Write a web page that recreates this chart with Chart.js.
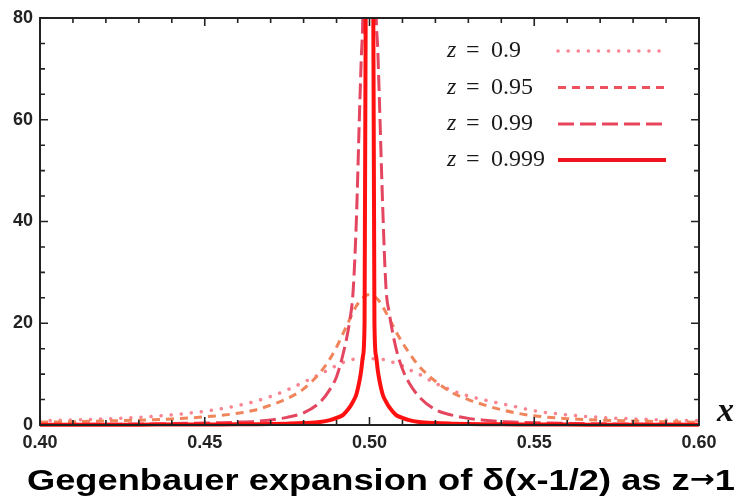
<!DOCTYPE html>
<html>
<head>
<meta charset="utf-8">
<script src="https://cdn.jsdelivr.net/npm/chart.js@4.4.1/dist/chart.umd.min.js"></script>
<style>
    html, body { margin: 0; padding: 0; background: #ffffff; }
    #wrap { width: 738px; height: 499px; }
</style>
</head>
<body>
<div id="wrap"><canvas id="chart" width="738" height="499"></canvas></div>
<script>
// x positions, denser near the peak at 1/2
var xValues = [0.40, 0.41, 0.42, 0.43, 0.44, 0.45, 0.455, 0.46, 0.465, 0.47, 0.475, 0.48, 0.485, 0.488, 0.49, 0.492, 0.494, 0.495, 0.496, 0.497, 0.4975, 0.498, 0.4985, 0.499, 0.4995,
    0.50,
    0.5005, 0.501, 0.5015, 0.502, 0.5025, 0.503, 0.504, 0.505, 0.506, 0.508, 0.51, 0.512, 0.515, 0.52, 0.525, 0.53, 0.535, 0.54, 0.545, 0.55, 0.56, 0.57, 0.58, 0.59, 0.60];

var seriesLabels = ["0.9", "0.95", "0.99", "0.999"];

var z090 = [0.8, 1.0, 1.2, 1.5, 2.0, 2.7, 3.2, 3.8, 4.6, 5.6, 6.9, 8.4, 10.0, 11.0, 11.7, 12.3, 12.7, 12.9, 13.0, 13.0, 13.0, 13.0, 13.0, 13.0, 13.0,
    13.0,
    13.0, 13.0, 13.0, 13.0, 13.0, 13.0, 12.9, 12.8, 12.6, 12.1, 11.6, 10.9, 10.0, 8.2, 6.8, 5.7, 4.9, 4.2, 3.5, 2.8, 2.0, 1.5, 1.2, 1.0, 0.85];

var z095 = [0.55, 0.65, 0.8, 0.95, 1.2, 1.6, 1.9, 2.3, 2.9, 3.9, 5.2, 7.1, 10.3, 13.0, 15.3, 18.0, 20.8, 22.2, 23.4, 24.3, 24.7, 25.0, 25.3, 25.5, 25.6,
    25.6,
    25.6, 25.5, 25.3, 25.0, 24.7, 24.3, 23.3, 22.1, 20.9, 18.4, 16.2, 14.2, 11.6, 8.6, 6.4, 5.0, 3.9, 3.0, 2.3, 1.8, 1.25, 0.95, 0.8, 0.65, 0.55];

var z099 = [0.1, 0.12, 0.15, 0.2, 0.27, 0.38, 0.45, 0.55, 0.7, 1.0, 1.5, 2.4, 4.5, 7.0, 9.5, 14.0, 20.5, 26, 40, 62, 72, 81, 110, 134, 150,
    155,
    150, 135, 112, 82, 74, 64, 43, 27, 22, 15.2, 11.0, 8.3, 5.6, 3.0, 1.95, 1.3, 0.95, 0.7, 0.55, 0.45, 0.32, 0.24, 0.18, 0.14, 0.12];

var z0999 = [0.04, 0.05, 0.06, 0.07, 0.08, 0.1, 0.11, 0.13, 0.16, 0.2, 0.27, 0.38, 0.6, 0.95, 1.4, 2.0, 3.5, 4.6, 6.0, 8.8, 10.8, 13.5, 20, 115, 250,
    400,
    250, 115, 20, 13.5, 10.8, 8.8, 6.0, 4.6, 3.5, 2.0, 1.4, 0.95, 0.6, 0.38, 0.27, 0.2, 0.16, 0.13, 0.11, 0.1, 0.08, 0.07, 0.06, 0.05, 0.04];

var xTicks = [0.40, 0.45, 0.50, 0.55, 0.60];
var yTicks = [0, 20, 40, 60, 80];

var lineColors = ["#f98592", "#f0845a", "#e4455f", "#ff1010"];
var legendColors = ["#f98592", "#f0505e", "#e8445c", "#f0141e"];
var dashes = [[0.1, 10], [8, 6], [16, 6], []];
var widths = [3.5, 3, 3, 4];
var caps = ["round", "butt", "butt", "butt"];

function toPoints(values) {
    return xValues.map(function (x, i) { return { x: x, y: values[i] }; });
}

var allSeries = [z090, z095, z099, z0999];

var datasets = allSeries.map(function (values, i) {
    return {
        label: "z = " + seriesLabels[i],
        data: toPoints(values),
        borderColor: lineColors[i],
        borderWidth: widths[i],
        borderDash: dashes[i],
        borderCapStyle: caps[i],
        pointRadius: 0,
        cubicInterpolationMode: "monotone",
        fill: false,
        order: 4 - i,
        clip: { left: 0, top: 0, right: 0, bottom: 6 }
    };
});

var inkColor = "#222222";

// frame with inward ticks, plus the legend, axis name and caption
var framePlugin = {
    id: "frame",
    afterDatasetsDraw: function (chart) {
        var ctx = chart.ctx;
        var area = chart.chartArea;
        var xs = chart.scales.x;
        var ys = chart.scales.y;
        ctx.save();
        ctx.strokeStyle = inkColor;
        ctx.lineWidth = 2;
        ctx.strokeRect(area.left, area.top, area.right - area.left, area.bottom - area.top);

        ctx.lineWidth = 1.6;
        ctx.beginPath();
        for (var i = 40; i <= 60; i++) {
            var px = xs.getPixelForValue(i / 100);
            var len = (i % 5 === 0) ? 8 : 5;
            ctx.moveTo(px, area.bottom);
            ctx.lineTo(px, area.bottom - len);
            ctx.moveTo(px, area.top);
            ctx.lineTo(px, area.top + len);
        }
        for (var v = 0; v <= 80; v += 5) {
            var py = ys.getPixelForValue(v);
            var l = (v % 20 === 0) ? 8 : 5;
            ctx.moveTo(area.left, py);
            ctx.lineTo(area.left + l, py);
            ctx.moveTo(area.right, py);
            ctx.lineTo(area.right - l, py);
        }
        ctx.stroke();
        ctx.restore();
    },
    afterDraw: function (chart) {
        var ctx = chart.ctx;
        var rows = [51, 87.5, 124, 160];
        ctx.save();
        ctx.fillStyle = "#1a1a1a";
        ctx.textBaseline = "middle";
        ctx.textAlign = "left";
        rows.forEach(function (y, i) {
            ctx.font = "italic 24px 'Liberation Serif', serif";
            ctx.fillText("z", 447, y);
            ctx.font = "24px 'Liberation Serif', serif";
            ctx.fillText("=", 466, y);
            ctx.fillText(seriesLabels[i], 491, y);

            ctx.beginPath();
            ctx.strokeStyle = legendColors[i];
            ctx.lineWidth = widths[i];
            ctx.lineCap = caps[i];
            ctx.setLineDash(dashes[i]);
            ctx.moveTo(558, y);
            ctx.lineTo(666, y);
            ctx.stroke();
        });
        ctx.setLineDash([]);

        ctx.fillStyle = "#111111";
        ctx.font = "bold italic 34px 'Liberation Serif', serif";
        ctx.textBaseline = "alphabetic";
        ctx.fillText("x", 717, 421);

        // caption in pieces so the arrow comes from a font that has a bold one,
        // then stretched to the width it has in the figure
        var parts = [
            { text: "Gegenbauer expansion of \u03b4(x-1/2) as z", font: "bold 29px 'Liberation Sans', Arial, sans-serif", dy: 0 },
            { text: "\u2192", font: "bold 24px 'DejaVu Sans', sans-serif", dy: -3 },
            { text: "1", font: "bold 29px 'Liberation Sans', Arial, sans-serif", dy: 0 }
        ];
        var total = 0;
        parts.forEach(function (p) {
            ctx.font = p.font;
            p.w = ctx.measureText(p.text).width;
            total += p.w;
        });
        ctx.translate(27, 490);
        ctx.scale(708 / total, 1);
        ctx.fillStyle = "#000000";
        var cx = 0;
        parts.forEach(function (p) {
            ctx.font = p.font;
            ctx.fillText(p.text, cx, p.dy);
            cx += p.w;
        });
        ctx.restore();
    }
};

new Chart(document.getElementById("chart"), {
    type: "line",
    data: { datasets: datasets },
    plugins: [framePlugin],
    options: {
        responsive: false,
        animation: false,
        devicePixelRatio: 1,
        layout: { padding: { top: 18, right: 39, left: 0, bottom: 0 } },
        plugins: {
            legend: { display: false },
            tooltip: { enabled: false },
            title: { display: false }
        },
        scales: {
            x: {
                type: "linear",
                min: 0.40,
                max: 0.60,
                afterFit: function (scale) { scale.height = 74; },
                afterBuildTicks: function (scale) {
                    scale.ticks = xTicks.map(function (v) { return { value: v }; });
                },
                ticks: {
                    callback: function (v) { return v.toFixed(2); },
                    color: inkColor,
                    font: { family: "'Liberation Sans', Arial, sans-serif", size: 18, weight: "bold" },
                    padding: 7,
                    autoSkip: false,
                    maxRotation: 0
                },
                grid: { display: false, drawTicks: false },
                border: { display: false }
            },
            y: {
                min: 0,
                max: 80,
                afterFit: function (scale) { scale.width = 40; },
                afterBuildTicks: function (scale) {
                    scale.ticks = yTicks.map(function (v) { return { value: v }; });
                },
                ticks: {
                    color: inkColor,
                    font: { family: "'Liberation Sans', Arial, sans-serif", size: 18, weight: "bold" },
                    padding: 7
                },
                grid: { display: false, drawTicks: false },
                border: { display: false }
            }
        }
    }
});
</script>
</body>
</html>
